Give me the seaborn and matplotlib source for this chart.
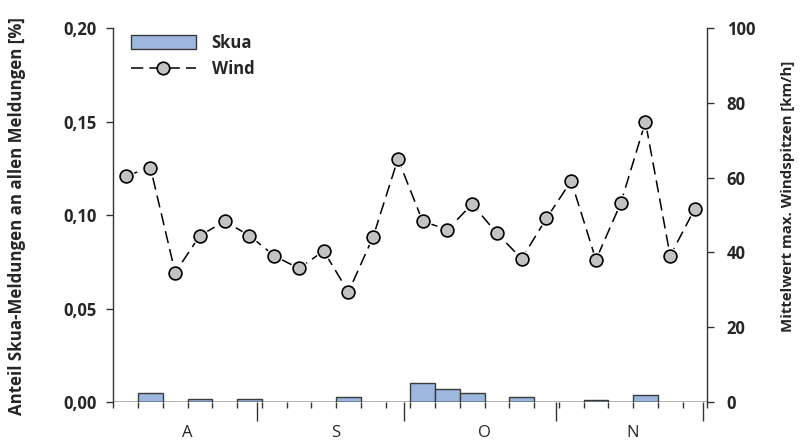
import matplotlib
matplotlib.use("Agg")
import matplotlib.pyplot as plt
from matplotlib.patches import Patch
from matplotlib.lines import Line2D
import seaborn as sns
import pandas as pd
import numpy as np

# ---- data ----
pentads = list(range(24))
skua_share = [0.0, 0.0050, 0.0, 0.0018, 0.0, 0.0014, 0.0, 0.0, 0.0, 0.0028, 0.0, 0.0,
              0.0102, 0.0068, 0.0047, 0.0, 0.0025, 0.0, 0.0, 0.0012, 0.0, 0.0039, 0.0, 0.0]
wind = [60.4, 62.7, 34.6, 44.5, 48.3, 44.5, 39.1, 35.7, 40.4, 29.4, 44.2, 65.0,
        48.3, 46.1, 52.9, 45.1, 38.3, 49.1, 59.1, 38.0, 53.1, 74.9, 39.1, 51.7]
months = ["A", "S", "O", "N"]
month_centers = [2.5, 8.5, 14.5, 20.5]
month_bounds = [5.30, 11.23, 17.40, 23.34]
left_ticks = [0.0, 0.05, 0.10, 0.15, 0.20]
left_ticklabels = ["0,00", "0,05", "0,10", "0,15", "0,20"]
right_ticks = [0, 20, 40, 60, 80, 100]

sns.set_theme(style="white")
plt.rcParams["font.family"] = ["Open Sans", "DejaVu Sans"]

df = pd.DataFrame({"p": pentads, "skua": skua_share, "wind": wind})

W, H = 811, 440
fig = plt.figure(figsize=(W / 100, H / 100), dpi=100)
AX_L, AX_R, AX_T, AX_B = 113.3, 707.3, 28, 402
ax = fig.add_axes([AX_L / W, 1 - AX_B / H, (AX_R - AX_L) / W, (AX_B - AX_T) / H])
axw = AX_R - AX_L
axh = AX_B - AX_T

bar_color = "#9DB7DE"
edge = "#3a3a3a"
sns.barplot(data=df, x="p", y="skua", color=bar_color, width=1.0,
            edgecolor=edge, linewidth=1.0, saturation=1, ax=ax)
ax.set_xlim(-0.5, 23.5)
ax.set_ylim(0, 0.20)

ax2 = ax.twinx()
sns.lineplot(data=df, x="p", y="wind", ax=ax2, color="black", linewidth=1.1,
             dashes=False, zorder=2)
ax2.lines[0].set_dashes((8, 4))
sns.scatterplot(data=df, x="p", y="wind", ax=ax2, s=150, color="white",
                edgecolor="white", linewidth=0, zorder=3)
sns.scatterplot(data=df, x="p", y="wind", ax=ax2, s=85, color="#C3C3C3",
                edgecolor="black", linewidth=1.2, zorder=4)
ax2.set_ylim(0, 100)
ax2.set_xlim(-0.5, 23.5)

for a in (ax, ax2):
    a.spines["top"].set_visible(False)
    a.spines["bottom"].set_visible(False)
    for s in ("left", "right"):
        a.spines[s].set_color("#333333")
        a.spines[s].set_linewidth(1.0)
ax.spines["right"].set_visible(False)
ax2.spines["left"].set_visible(False)
ax.axhline(0, color="#222222", linewidth=1.0, zorder=1)

TICK_FS = 12
ax.set_yticks(left_ticks)
ax.set_yticklabels(left_ticklabels, fontweight="bold", fontsize=TICK_FS)
ax.tick_params(axis="y", which="major", direction="out", length=5, width=1,
               color="#333333", pad=7, left=True)
ax2.set_yticks(right_ticks)
ax2.set_yticklabels([str(t) for t in right_ticks], fontweight="bold", fontsize=TICK_FS)
ax2.tick_params(axis="y", which="major", direction="out", length=5, width=1,
                color="#333333", pad=9, right=True)

ax.set_xticks(month_bounds)
ax.set_xticklabels([""] * len(month_bounds))
ax.set_xticks(np.arange(-0.5, 24, 1.0), minor=True)
ax.tick_params(axis="x", which="major", direction="out", length=14, width=1,
               color="#333333", bottom=True)
ax.tick_params(axis="x", which="minor", direction="out", length=4.5, width=1,
               color="#333333", bottom=True)
ax2.tick_params(axis="x", which="both", bottom=False, labelbottom=False)
ax.set_xlabel("")
ax2.set_xlabel("")

for m, c in zip(months, month_centers):
    ax.text(c, -(437 - AX_B) / axh * 0.20, m, ha="center", va="baseline",
            fontsize=12, transform=ax.transData)

ax.set_ylabel("Anteil Skua-Meldungen an allen Meldungen [%]", fontweight="bold",
              fontsize=12.5)
ax2.set_ylabel("Mittelwert max. Windspitzen [km/h]", fontweight="bold",
               fontsize=12.2, rotation=90)

# fit label font sizes to the reference's measured text lengths
fig.canvas.draw()
r = fig.canvas.get_renderer()
def fit(txt, target, vertical):
    bb = txt.get_window_extent(r)
    cur = bb.height if vertical else bb.width
    if cur > 0:
        txt.set_fontsize(txt.get_fontsize() * target / cur)
fit(ax.yaxis.label, 398, True)
fit(ax2.yaxis.label, 272, True)

ax.yaxis.set_label_coords(-(AX_L - 26) / axw, (AX_B - 216) / axh)
ax2.yaxis.set_label_coords(1 + (781 - AX_R) / axw, (AX_B - 196) / axh)

handles = [
    Patch(facecolor=bar_color, edgecolor=edge, linewidth=1.0, label="Skua"),
    Line2D([0], [0], color="black", linewidth=1.1, dashes=(8, 4), marker="o",
           markersize=9, markerfacecolor="#C3C3C3", markeredgecolor="black",
           markeredgewidth=1.2, label="Wind"),
]
leg = ax2.legend(handles=handles, loc="upper left",
                 bbox_to_anchor=(130.7 / W, 1 - 34 / H),
                 bbox_transform=fig.transFigure, frameon=False,
                 prop={"weight": "bold", "size": 12}, handlelength=3.9,
                 handleheight=0.9, handletextpad=0.95, labelspacing=0.5,
                 borderpad=0, borderaxespad=0)

fig.savefig("out.png", dpi=100)
